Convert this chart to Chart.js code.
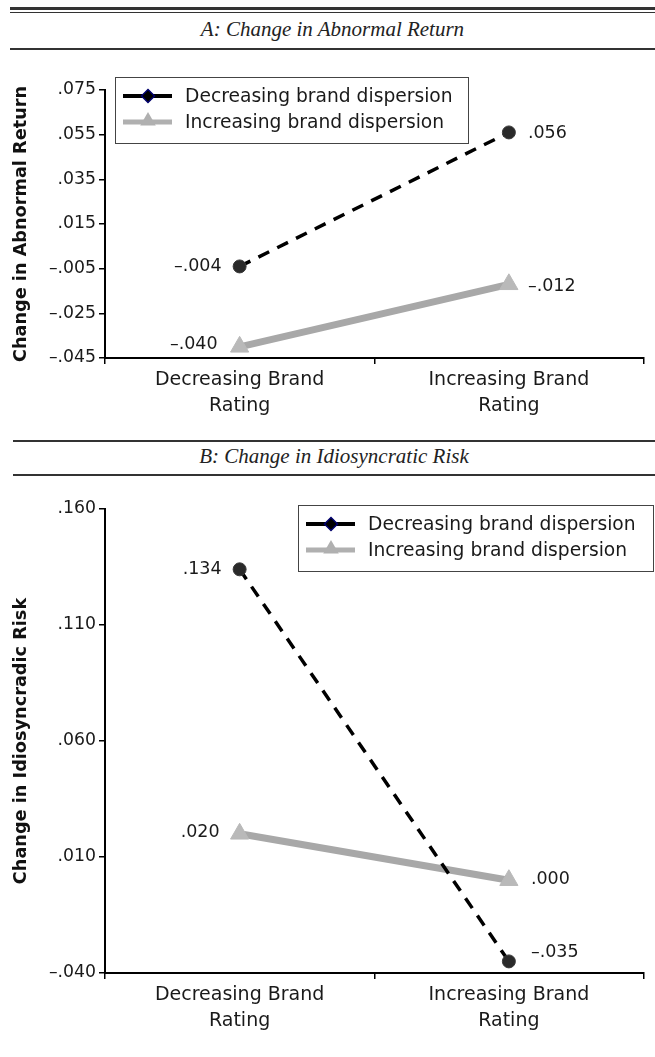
<!DOCTYPE html>
<html lang="en">
<head>
    <meta charset="UTF-8">
    <title>Change in Abnormal Return / Idiosyncratic Risk</title>
    <style>
        body {
            margin: 0;
            background: #fff;
            width: 655px;
            height: 1057px;
            position: relative;
            overflow: hidden;
        }
        .rule {
            position: absolute;
            right: 0;
            background: #333;
        }
        .panel-title {
            position: absolute;
            right: 0;
            text-align: center;
            font-family: "Liberation Serif", "Times New Roman", serif;
            font-style: italic;
            font-size: 21px;
            color: #222;
        }
        .chart-box {
            position: absolute;
            left: 0;
            width: 655px;
        }
    </style>
    <script src="https://cdn.jsdelivr.net/npm/chart.js"></script>
</head>
<body>
    <div class="rule" style="left:10px; top:7px; height:2.5px;"></div>
    <div class="rule" style="left:10px; top:12px; height:1px;"></div>
    <div class="panel-title" style="left:10px; top:17px;">A: Change in Abnormal Return</div>
    <div class="rule" style="left:10px; top:48px; height:1.5px;"></div>
    <div class="chart-box" style="top:60px; height:365px;"><canvas id="returnChart"></canvas></div>

    <div class="rule" style="left:13px; top:440px; height:1.5px;"></div>
    <div class="panel-title" style="left:13px; top:444px;">B: Change in Idiosyncratic Risk</div>
    <div class="rule" style="left:13px; top:474px; height:1.5px;"></div>
    <div class="chart-box" style="top:480px; height:577px;"><canvas id="riskChart"></canvas></div>

    <script>
        // data
        const categories = [['Decreasing Brand', 'Rating'], ['Increasing Brand', 'Rating']];
        const seriesNames = ['Decreasing brand dispersion', 'Increasing brand dispersion'];

        const returnDecreasing = [-0.004, 0.056];
        const returnIncreasing = [-0.040, -0.012];
        const returnTicks = [-0.045, -0.025, -0.005, 0.015, 0.035, 0.055, 0.075];

        const riskDecreasing = [0.134, -0.035];
        const riskIncreasing = [0.020, 0.000];
        const riskTicks = [-0.040, 0.010, 0.060, 0.110, 0.160];

        const FONT = '"DejaVu Sans", "Liberation Sans", sans-serif';
        Chart.defaults.font.family = FONT;
        Chart.defaults.color = '#1a1a1a';

        function fmt(v) {
            const s = Math.abs(v).toFixed(3).replace(/^0/, '');
            return v < 0 ? '\u2013' + s : s;
        }

        function drawDiamond(ctx, x, y, r) {
            ctx.beginPath();
            ctx.moveTo(x, y - r);
            ctx.lineTo(x + r, y);
            ctx.lineTo(x, y + r);
            ctx.lineTo(x - r, y);
            ctx.closePath();
        }

        function drawTriangle(ctx, x, y, r) {
            ctx.beginPath();
            ctx.moveTo(x, y - r);
            ctx.lineTo(x + r * 0.866, y + r * 0.5);
            ctx.lineTo(x - r * 0.866, y + r * 0.5);
            ctx.closePath();
        }

        // value labels next to the points, plus the boxed legend
        const annotate = {
            id: 'annotate',
            afterDatasetsDraw(chart, args, opts) {
                const ctx = chart.ctx;
                ctx.save();
                ctx.font = '17.5px ' + FONT;
                ctx.fillStyle = '#1a1a1a';
                ctx.textBaseline = 'middle';
                chart.data.datasets.forEach((ds, di) => {
                    const meta = chart.getDatasetMeta(di);
                    meta.data.forEach((pt, i) => {
                        const [side, gap, dy] = opts.places[di][i];
                        ctx.textAlign = side === 'left' ? 'right' : 'left';
                        const x = side === 'left' ? pt.x - gap : pt.x + gap;
                        ctx.fillText(fmt(ds.data[i]), x, pt.y + dy);
                    });
                });

                const lg = opts.legend;
                ctx.strokeStyle = '#444';
                ctx.lineWidth = 1;
                ctx.strokeRect(lg.x + 0.5, lg.y + 0.5, lg.w, lg.h);
                ctx.font = '18.7px ' + FONT;
                ctx.textAlign = 'left';
                chart.data.datasets.forEach((ds, di) => {
                    const y = lg.y + 19 + di * 26;
                    const x0 = lg.x + 8, x1 = lg.x + 57, xm = lg.x + 33;
                    ctx.beginPath();
                    ctx.moveTo(x0, y);
                    ctx.lineTo(x1, y);
                    ctx.setLineDash([]);
                    ctx.lineWidth = di === 0 ? 4 : 5;
                    ctx.strokeStyle = di === 0 ? '#000' : '#b0b0b0';
                    ctx.stroke();
                    if (di === 0) {
                        drawDiamond(ctx, xm, y, 6.5);
                        ctx.fillStyle = '#000';
                        ctx.fill();
                        ctx.lineWidth = 1.5;
                        ctx.strokeStyle = '#00006e';
                        ctx.stroke();
                    } else {
                        drawTriangle(ctx, xm, y - 1, 9);
                        ctx.fillStyle = '#b0b0b0';
                        ctx.fill();
                    }
                    ctx.fillStyle = '#1a1a1a';
                    ctx.fillText(ds.label, lg.x + 70, y + 1);
                });
                ctx.restore();
            }
        };

        function makeChart(id, decreasing, increasing, ticks, yTitle, layout) {
            const ctx = document.getElementById(id).getContext('2d');
            return new Chart(ctx, {
                type: 'line',
                data: {
                    labels: categories,
                    datasets: [{
                        label: seriesNames[0],
                        data: decreasing,
                        borderColor: '#000',
                        borderWidth: 3.5,
                        borderDash: [12, 9],
                        pointStyle: 'circle',
                        pointRadius: 6.5,
                        pointBackgroundColor: '#2a2a2a',
                        pointBorderColor: '#3a3a3a',
                        pointBorderWidth: 1,
                        order: 1
                    }, {
                        label: seriesNames[1],
                        data: increasing,
                        borderColor: '#a8a8a8',
                        borderWidth: 7,
                        pointStyle: 'triangle',
                        pointRadius: 10.5,
                        pointBackgroundColor: '#b9b9b9',
                        pointBorderColor: '#b9b9b9',
                        pointBorderWidth: 1,
                        order: 2
                    }]
                },
                options: {
                    responsive: true,
                    maintainAspectRatio: false,
                    animation: false,
                    layout: { padding: { top: layout.top, right: layout.right, left: 0, bottom: 0 } },
                    plugins: {
                        legend: { display: false },
                        tooltip: { enabled: false },
                        annotate: { places: layout.places, legend: layout.legend }
                    },
                    scales: {
                        x: {
                            offset: true,
                            grid: {
                                offset: true,
                                drawOnChartArea: false,
                                drawTicks: true,
                                tickLength: 6,
                                color: '#000',
                                lineWidth: 1.5
                            },
                            border: { color: '#000', width: 2 },
                            ticks: {
                                font: { size: 19, lineHeight: 1.32 },
                                color: '#1a1a1a',
                                padding: 4,
                                maxRotation: 0
                            },
                            afterFit: s => { s.height = layout.xHeight; }
                        },
                        y: {
                            min: ticks[0],
                            max: ticks[ticks.length - 1],
                            afterBuildTicks: s => { s.ticks = ticks.map(v => ({ value: v })); },
                            grid: {
                                drawOnChartArea: false,
                                drawTicks: true,
                                tickLength: 6,
                                color: '#000',
                                lineWidth: 1.5
                            },
                            border: { color: '#000', width: 2 },
                            ticks: {
                                font: { size: 17.3 },
                                color: '#1a1a1a',
                                padding: 3,
                                callback: v => fmt(v)
                            },
                            title: {
                                display: true,
                                text: yTitle,
                                color: '#111',
                                font: { size: 17.7, weight: 'bold' },
                                padding: { top: 11, bottom: 0 }
                            },
                            afterFit: s => { s.width = layout.yWidth; }
                        }
                    }
                },
                plugins: [annotate]
            });
        }

        makeChart('returnChart', returnDecreasing, returnIncreasing, returnTicks,
            'Change in Abnormal Return', {
                top: 30, right: 9, xHeight: 67, yWidth: 105,
                legend: { x: 115, y: 17, w: 353, h: 66 },
                places: [
                    [['left', 18, 0], ['right', 19, 1]],
                    [['left', 22, -2], ['right', 19, 2]]
                ]
            });

        makeChart('riskChart', riskDecreasing, riskIncreasing, riskTicks,
            'Change in Idiosyncradic Risk', {
                top: 29, right: 8, xHeight: 84, yWidth: 105,
                legend: { x: 298, y: 25, w: 355, h: 66 },
                places: [
                    [['left', 18, 0], ['right', 22, -9]],
                    [['left', 20, -1], ['right', 22, -1]]
                ]
            });
    </script>
</body>
</html>
